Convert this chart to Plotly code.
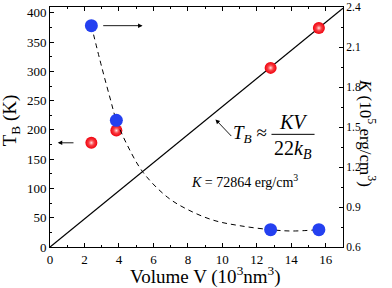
import plotly.graph_objects as go

# Data
vol = [2.4, 3.85, 12.8, 15.6]
tb = [178, 199, 306, 374]
k_vals = [2.26, 1.55, 0.73, 0.73]
fit_v = [2.4, 3.0, 3.5, 3.85, 4.5, 5.4, 6.8, 8.0, 9.5, 11.0, 12.8, 14.0, 15.6]
fit_k = [2.26, 1.95, 1.71, 1.55, 1.36, 1.16, 0.975, 0.88, 0.80, 0.76, 0.73, 0.72, 0.73]
line_v = [0, 17]
line_t = [0, 408]

FONT = "Liberation Serif"

fig = go.Figure()
fig.add_trace(go.Scatter(x=line_v, y=line_t, mode="lines",
                         line=dict(color="black", width=1.3), showlegend=False))
fig.add_trace(go.Scatter(x=fit_v, y=fit_k, mode="lines", yaxis="y2",
                         line=dict(color="black", width=1, dash="5px,4px", shape="spline"),
                         showlegend=False))
fig.add_trace(go.Scatter(x=vol, y=k_vals, mode="markers", yaxis="y2",
                         marker=dict(color="#2440f0", size=13, line=dict(width=0)),
                         showlegend=False))
fig.add_trace(go.Scatter(x=vol, y=tb, mode="markers",
                         marker=dict(color="#f0000c", size=12,
                                     gradient=dict(type="radial", color="#ff7070"),
                                     line=dict(width=0)),
                         showlegend=False))
fig.add_trace(go.Scatter(x=vol, y=tb, mode="markers",
                         marker=dict(color="rgba(255,120,120,0)", size=6,
                                     gradient=dict(type="radial", color="#ffeaea"),
                                     line=dict(width=0)),
                         showlegend=False))

axis_common = dict(showline=True, linecolor="black", linewidth=1, ticks="inside",
                   ticklen=4, tickcolor="black", showgrid=False, zeroline=False,
                   automargin=False)

fig.update_layout(
    width=392, height=288,
    margin=dict(l=50, r=49, t=7, b=41),
    plot_bgcolor="white", paper_bgcolor="white",
    font=dict(family=FONT, color="black"),
    xaxis=dict(range=[0, 17], dtick=2, tick0=0, mirror="ticks",
               minor=dict(dtick=1, ticks="inside", ticklen=2, tickcolor="black"),
               tickfont=dict(family=FONT, size=13, color="black"),
               **axis_common),
    yaxis=dict(range=[0, 410], dtick=50, tick0=0,
               minor=dict(dtick=25, ticks="inside", ticklen=2, tickcolor="black"),
               tickfont=dict(family=FONT, size=13, color="black"),
               **axis_common),
    yaxis2=dict(range=[0.6, 2.4], dtick=0.3, tick0=0.6, overlaying="y", side="right",
                tickformat=".1f",
                minor=dict(dtick=0.15, ticks="inside", ticklen=2, tickcolor="black"),
                tickfont=dict(family=FONT, size=11.5, color="black"),
                **axis_common),
)

arrow = dict(showarrow=True, arrowhead=2, arrowsize=1, arrowwidth=0.9,
             arrowcolor="black", text="")
annotations = [
    dict(x=5.37, y=2.26, xref="x", yref="y2", ax=3.0, ay=2.26, axref="x", ayref="y2", **arrow),
    dict(x=0.45, y=178, xref="x", yref="y", ax=1.45, ay=178, axref="x", ayref="y", **arrow),
    dict(x=9.6, y=218, xref="x", yref="y", ax=10.6, ay=187, axref="x", ayref="y", **arrow),
    # axis titles
    dict(x=0.532, y=-0.118, xref="paper", yref="paper", showarrow=False,
         text="Volume V (10<sup>3</sup>nm<sup>3</sup>)", font=dict(family=FONT, size=19),
         xanchor="center", yanchor="middle"),
    dict(x=-0.133, y=0.528, xref="paper", yref="paper", showarrow=False, textangle=-90,
         text="T<sub>B</sub> (K)", font=dict(family=FONT, size=19),
         xanchor="center", yanchor="middle"),
    dict(x=1.083, y=0.474, xref="paper", yref="paper", textangle=90, showarrow=False,
         text="<i>K</i> (10<sup>5</sup> erg/cm<sup>3</sup>)",
         font=dict(family=FONT, size=17), xanchor="center", yanchor="middle"),
    # equation
    dict(x=11.28, y=1.093, xref="x", yref="y2", showarrow=False,
         text="<i>K</i> = 72864 erg/cm<sup>3</sup>", font=dict(family=FONT, size=14)),
    dict(x=12.7, y=1.45, xref="x", yref="y2", showarrow=False, xanchor="right",
         text="<i>T<sub>B</sub></i> ≈", font=dict(family=FONT, size=19)),
    dict(x=14.1, y=1.535, xref="x", yref="y2", showarrow=False,
         text="<i>KV</i>", font=dict(family=FONT, size=20)),
    dict(x=14.1, y=1.33, xref="x", yref="y2", showarrow=False,
         text="22<i>k<sub>B</sub></i>", font=dict(family=FONT, size=20)),
]
fig.update_layout(annotations=annotations)
fig.add_shape(type="line", xref="x", yref="y2", x0=12.85, x1=15.35, y0=1.445, y1=1.445,
              line=dict(color="black", width=1))

fig.write_html("out.html", config={"displayModeBar": False},
               post_script="document.body.style.margin='0';document.body.style.overflow='hidden';")
